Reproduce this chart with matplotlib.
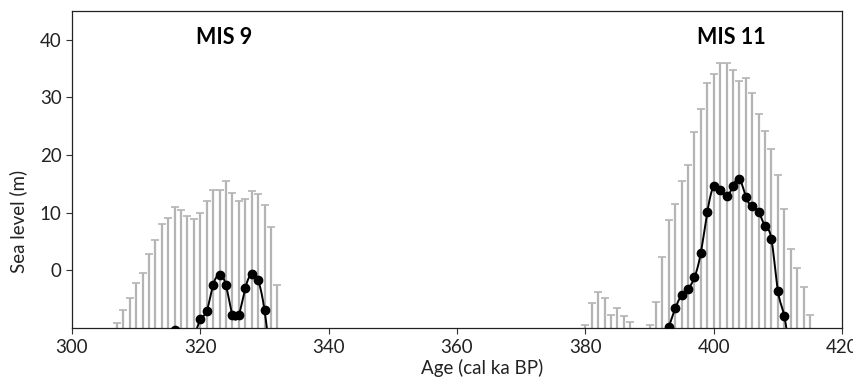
import numpy as np
import matplotlib.pyplot as plt

plt.rcParams['font.family'] = ['Lato', 'DejaVu Sans']

# upper limits of sea level (grey bars)
bar_age = [307, 308, 309, 310, 311, 312, 313, 314, 315, 316, 317, 318, 319,
           320, 321, 322, 323, 324, 325, 326, 327, 328, 329, 330, 331, 332,
           380, 381, 382, 383, 384, 385, 386, 387,
           390, 391, 392, 393, 394, 395, 396, 397, 398, 399, 400, 401, 402,
           403, 404, 405, 406, 407, 408, 409, 410, 411, 412, 413, 414, 415]
bar_top = [-9.2, -6.9, -4.7, -2.2, -0.5, 2.8, 5.3, 8.1, 9.1, 11.0, 10.5, 9.4, 9.0,
           10.0, 12.0, 14.0, 14.0, 15.5, 13.4, 12.1, 12.4, 13.7, 13.3, 11.3, 7.6, -2.6,
           -9.5, -5.7, -3.8, -4.7, -7.7, -6.6, -7.9, -9.0,
           -9.5, -5.5, 2.4, 8.8, 11.6, 15.5, 18.3, 24.0, 28.0, 32.5, 34.1, 35.9, 36.0,
           34.7, 32.9, 33.4, 30.7, 27.2, 24.1, 21.1, 16.6, 10.7, 3.8, 0.5, -2.9, -7.8]

# best estimate (black dots), points below -10 are hidden by the axis
mis9_age = [316, 317, 318, 319, 320, 321, 322, 323, 324, 325, 326, 327, 328, 329, 330, 331]
mis9_sl = [-10.3, -12.5, -13.0, -11.5, -8.5, -7.0, -2.5, -0.8, -2.6, -7.7, -7.7,
           -3.1, -0.6, -1.7, -6.9, -16.0]
mis11_age = [392, 393, 394, 395, 396, 397, 398, 399, 400, 401, 402, 403, 404,
             405, 406, 407, 408, 409, 410, 411, 412]
mis11_sl = [-13.0, -9.8, -6.6, -4.3, -3.2, -1.2, 3.1, 10.1, 14.6, 14.0, 12.9, 14.6,
            15.9, 12.8, 11.1, 10.2, 7.7, 5.4, -3.5, -7.9, -16.0]


def natural_spline(x, y, n=25):
    x = np.asarray(x, float)
    y = np.asarray(y, float)
    h = np.diff(x)
    k = len(x)
    A = np.zeros((k, k))
    b = np.zeros(k)
    A[0, 0] = A[-1, -1] = 1
    for i in range(1, k - 1):
        A[i, i - 1] = h[i - 1]
        A[i, i] = 2 * (h[i - 1] + h[i])
        A[i, i + 1] = h[i]
        b[i] = 6 * ((y[i + 1] - y[i]) / h[i] - (y[i] - y[i - 1]) / h[i - 1])
    M = np.linalg.solve(A, b)
    xs, ys = [], []
    for i in range(k - 1):
        t = np.linspace(x[i], x[i + 1], n)
        a = x[i + 1] - t
        c = t - x[i]
        s = (M[i] * a**3 + M[i + 1] * c**3) / (6 * h[i]) \
            + (y[i] / h[i] - M[i] * h[i] / 6) * a \
            + (y[i + 1] / h[i] - M[i + 1] * h[i] / 6) * c
        xs.append(t)
        ys.append(s)
    return np.concatenate(xs), np.concatenate(ys)


fig = plt.figure(figsize=(8.54, 3.78), dpi=100)
ax = fig.add_axes([0.0843, 0.132, 0.9017, 0.839])

bar_top = np.array(bar_top)
ax.errorbar(bar_age, bar_top, yerr=[bar_top + 30, np.zeros_like(bar_top)],
            fmt='none', ecolor='#b4b4b4', elinewidth=1.6, capsize=2.6, capthick=1.2)

for age, sl in [(mis9_age, mis9_sl), (mis11_age, mis11_sl)]:
    sx, sy = natural_spline(age, sl)
    ax.plot(sx, sy, color='black', linewidth=1.4, zorder=3)
    ax.plot(age, sl, 'o', color='black', markersize=6, zorder=4)

ax.text(323.7, 40.4, 'MIS 9', fontsize=15.5, fontweight='bold', ha='center', va='center')
ax.text(402.8, 40.4, 'MIS 11', fontsize=15.5, fontweight='bold', ha='center', va='center')

ax.set_xlim(300, 420)
ax.set_ylim(-10, 45)
ax.set_xticks([300, 320, 340, 360, 380, 400, 420])
ax.set_yticks([0, 10, 20, 30, 40])
ax.tick_params(labelsize=13.5, length=4, width=0.8, color='#333333', labelcolor='#222222')
for sp in ax.spines.values():
    sp.set_linewidth(0.9)
    sp.set_color('#222222')

ax.set_xlabel('Age (cal ka BP)', fontsize=13.5, color='#222222')
ax.xaxis.set_label_coords(0.532, -0.097)
ax.set_ylabel('Sea level (m)', fontsize=13.5, color='#222222')
ax.yaxis.set_label_coords(-0.058, 0.335)

fig.savefig('out.png', dpi=100)
